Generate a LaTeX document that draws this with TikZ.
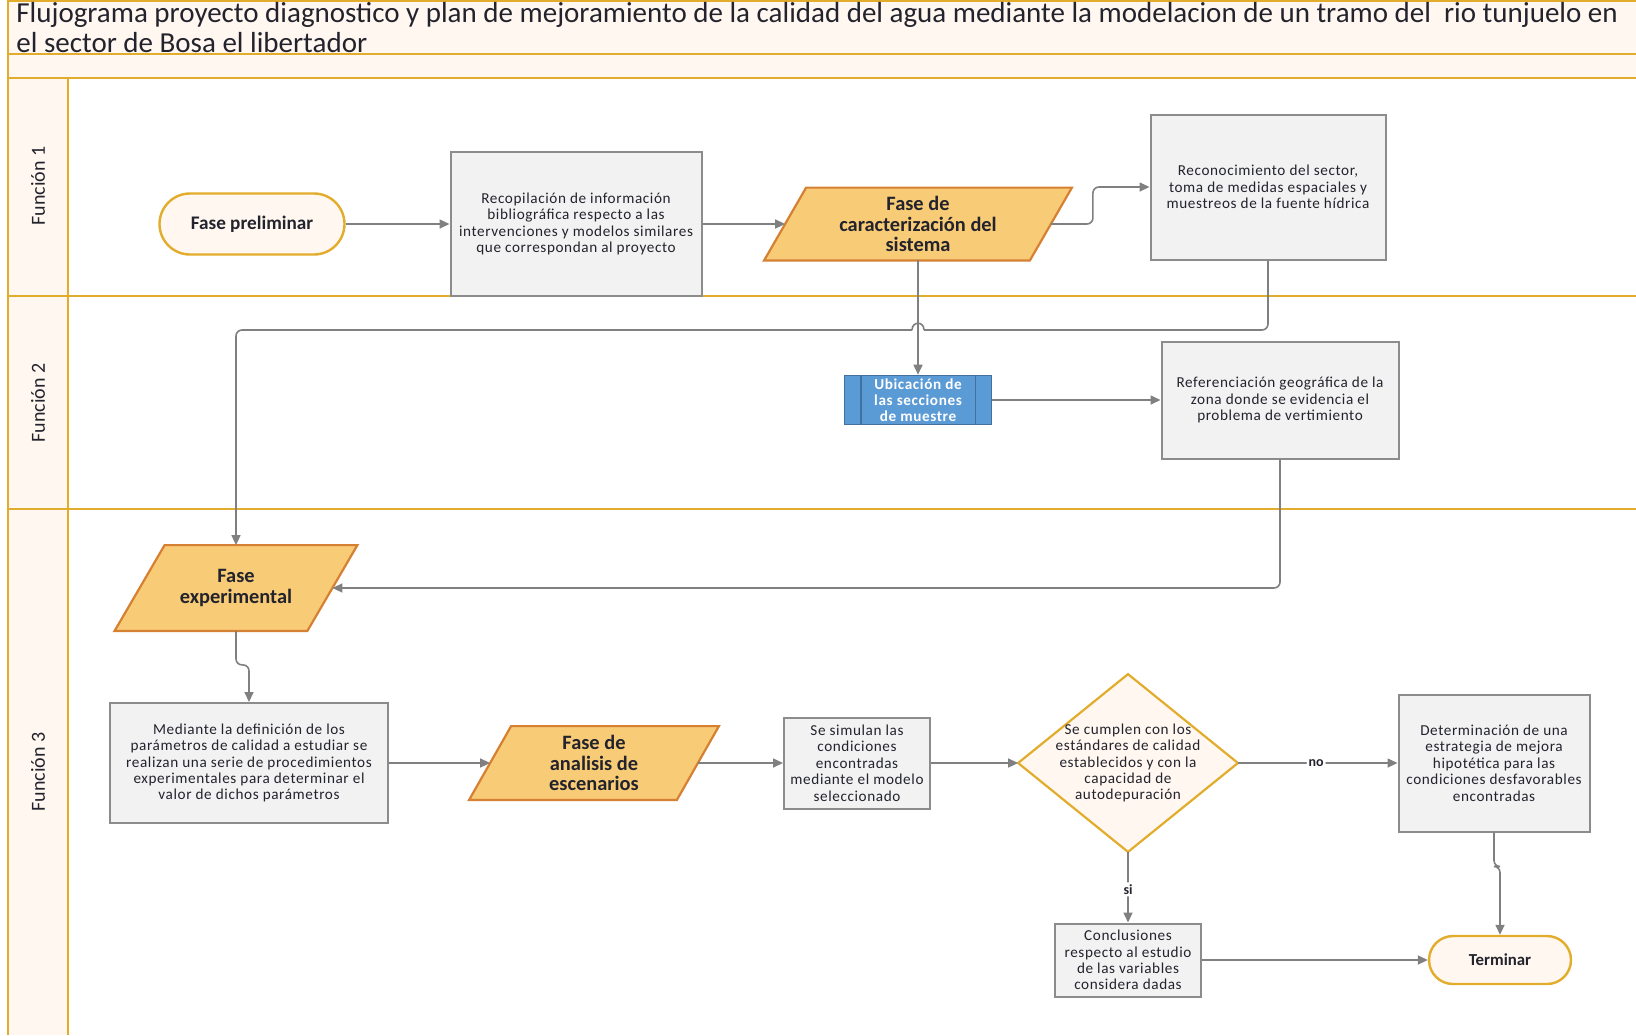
\documentclass[tikz,border=0pt]{standalone}
\usepackage{fontspec}
\setmainfont{Carlito}
\newfontfamily\spaced[LetterSpace=4]{Carlito}
\usetikzlibrary{arrows.meta,shapes.misc,backgrounds}
\definecolor{lanegold}{RGB}{226,172,44}
\definecolor{peach}{RGB}{255,247,240}
\definecolor{boxfill}{RGB}{242,242,242}
\definecolor{boxline}{RGB}{140,140,140}
\definecolor{parafill}{RGB}{248,203,118}
\definecolor{paraline}{RGB}{213,128,50}
\definecolor{bluefill}{RGB}{91,155,213}
\definecolor{blueline}{RGB}{65,113,156}
\definecolor{conncol}{RGB}{128,128,128}
\definecolor{txt}{RGB}{35,35,45}
\begin{document}
\begin{tikzpicture}[x=0.5pt,y=-0.5pt,
  lane/.style={draw=lanegold,line width=1.4pt},
  procbox/.style={draw=boxline,fill=boxfill,line width=1pt,align=center,inner sep=1pt,text=txt,font=\spaced\fontsize{7.6}{8.2}\selectfont},
  termshape/.style={rounded rectangle,draw=lanegold,fill=peach,line width=1.2pt,text=txt,inner sep=1pt},
  paratext/.style={align=center,inner sep=0pt,text=txt,font=\bfseries\fontsize{10.2}{10.3}\selectfont},
  parashape/.style={draw=paraline,fill=parafill,line width=1.1pt},
  connector/.style={draw=conncol,line width=0.8pt,rounded corners=3pt,-{Triangle[length=5pt,width=4.5pt]}},
  connline/.style={draw=conncol,line width=0.8pt,rounded corners=3pt},
  lbl/.style={font=\bfseries\fontsize{7}{8}\selectfont,text=txt,fill=white,inner sep=1pt},
  lanelabel/.style={rotate=90,font=\fontsize{10}{12}\selectfont,text=txt}
]
\useasboundingbox (0,0) rectangle (1636,1035);
\begin{scope}[on background layer]
  \fill[white] (0,0) rectangle (1636,1035);
  \fill[peach] (8,0) rectangle (1636,78);
  \fill[peach] (8,78) rectangle (68,1035);
  \draw[lane] (8,1) -- (1636,1);
  \draw[lane] (8,54) -- (1636,54);
  \draw[lane] (8,78) -- (1636,78);
  \draw[lane] (8,296) -- (1636,296);
  \draw[lane] (8,509) -- (1636,509);
  \draw[lane] (8,0) -- (8,1035);
  \draw[lane] (68,78) -- (68,1035);
\end{scope}

% title
\node[anchor=west,inner sep=0pt,text=txt,font=\fontsize{14.5}{15}\selectfont] (t1) at (16,15) {Flujograma proyecto diagnostico y plan de mejoramiento de la calidad del agua mediante la modelacion de un tramo del\ \ rio tunjuelo en};
\node[anchor=west,inner sep=0pt,text=txt,font=\fontsize{14.5}{15}\selectfont] (t2) at (16,43) {el sector de Bosa el libertador};

% lane labels
\node[lanelabel] (l1) at (38,186) {Función 1};
\node[lanelabel] (l2) at (38,403) {Función 2};
\node[lanelabel] (l3) at (38,772) {Función 3};

% nodes lane 1
\node[termshape,minimum width=94.5pt,minimum height=30.5pt,font=\bfseries\fontsize{9.6}{11}\selectfont] (prelim) at (252,224) {Fase preliminar};
\node[procbox,minimum width=125.5pt,minimum height=72pt] (recop) at (576,224) {Recopilación de información\\bibliográfica respecto a las\\intervenciones y modelos similares\\que correspondan al proyecto};
\node[paratext,minimum width=153.5pt,minimum height=36pt] (caract) at (918,224) {Fase de\\caracterización del\\sistema};
\node[procbox,minimum width=117.5pt,minimum height=72.5pt] (recon) at (1268,187) {Reconocimiento del sector,\\toma de medidas espaciales y\\muestreos de la fuente hídrica};

% lane 2
\node[draw=blueline,fill=bluefill,line width=0.8pt,minimum width=73.5pt,minimum height=24.5pt,inner sep=0pt,align=center,text=white,font=\spaced\bfseries\fontsize{7.6}{7.9}\selectfont] (ubic) at (918,400) {Ubicación de\\las secciones\\de muestre};
\draw[blueline,line width=0.8pt] ([xshift=8.5pt]ubic.north west) -- ([xshift=8.5pt]ubic.south west);
\draw[blueline,line width=0.8pt] ([xshift=-8.5pt]ubic.north east) -- ([xshift=-8.5pt]ubic.south east);
\node[procbox,minimum width=118.5pt,minimum height=58.5pt] (refer) at (1280,400) {Referenciación geográfica de la\\zona donde se evidencia el\\problema de vertimiento};

% lane 3
\node[paratext,minimum width=121pt,minimum height=42.5pt] (fexp) at (236,588) {Fase\\experimental};
\node[procbox,minimum width=139pt,minimum height=60pt] (medi) at (249,763) {Mediante la definición de los\\parámetros de calidad a estudiar se\\realizan una serie de procedimientos\\experimentales para determinar el\\valor de dichos parámetros};
\node[paratext,minimum width=124.5pt,minimum height=36.5pt] (anal) at (594,763) {Fase de\\analisis de\\escenarios};
\node[procbox,minimum width=73pt,minimum height=45.5pt] (simu) at (857,763) {Se simulan las\\condiciones\\encontradas\\mediante el modelo\\seleccionado};
\node[align=center,inner sep=0pt,minimum width=109.5pt,minimum height=88.5pt,text=txt,font=\spaced\fontsize{7.6}{8.1}\selectfont] (dec) at (1128,763) {Se cumplen con los\\estándares de calidad\\establecidos y con la\\capacidad de\\autodepuración};
\node[procbox,minimum width=95.5pt,minimum height=68.5pt] (deter) at (1494,763) {Determinación de una\\estrategia de mejora\\hipotética para las\\condiciones desfavorables\\encontradas};
\node[procbox,minimum width=73pt,minimum height=36.5pt] (concl) at (1128,960) {Conclusiones\\respecto al estudio\\de las variables\\considera dadas};
\node[termshape,minimum width=73pt,minimum height=24pt,font=\bfseries\fontsize{8.4}{10}\selectfont] (term) at (1500,960) {Terminar};

% shapes behind text
\begin{scope}[on background layer]
  \draw[parashape] ([xshift=21pt]caract.north west) -- (caract.north east) -- ([xshift=-21pt]caract.south east) -- (caract.south west) -- cycle;
  \draw[parashape] ([xshift=25pt]fexp.north west) -- (fexp.north east) -- ([xshift=-25pt]fexp.south east) -- (fexp.south west) -- cycle;
  \draw[parashape] ([xshift=21pt]anal.north west) -- (anal.north east) -- ([xshift=-21pt]anal.south east) -- (anal.south west) -- cycle;
  \draw[draw=lanegold,fill=peach,line width=1.1pt] (dec.north) -- (dec.east) -- (dec.south) -- (dec.west) -- cycle;
\end{scope}

% helper coordinates
\coordinate (caractL) at ([xshift=10.5pt]caract.west);
\coordinate (caractR) at ([xshift=-10.5pt]caract.east);
\coordinate (analL) at ([xshift=10.5pt]anal.west);
\coordinate (analR) at ([xshift=-10.5pt]anal.east);
\coordinate (fexpR) at ([xshift=-12.5pt]fexp.east);
\coordinate (hopy) at (0,330);
\coordinate (hopC) at (caract.south |- hopy);
\coordinate (hopR) at ([xshift=3pt]hopC);
\coordinate (hopL) at ([xshift=-3pt]hopC);

% connectors
\draw[connector] (prelim.east) -- (recop.west);
\draw[connector] (recop.east) -- (caractL);
\draw[connector] (caractR) -- ++(42,0) |- (recon.west);
\draw[connector] (caract.south) -- (ubic.north);
\draw[connline] (recon.south) |- (hopR);
\draw[draw=conncol,line width=0.8pt] (hopR) .. controls ([yshift=4.5pt]hopR) and ([yshift=4.5pt]hopL) .. (hopL);
\draw[connector] (hopL) -| (fexp.north);
\draw[connector] (ubic.east) -- (refer.west);
\draw[connector] (refer.south) |- (fexpR);
\draw[connector] (fexp.south) -- ++(0,34) -| (medi.north);
\draw[connector] (medi.east) -- (analL);
\draw[connector] (analR) -- (simu.west);
\draw[connector] (simu.east) -- (dec.west);
\draw[connector] (dec.east) -- node[lbl,pos=0.49] {no} (deter.west);
\draw[connector] (dec.south) -- node[lbl,pos=0.53] {si} (concl.north);
\draw[connector] (deter.south) -- ++(0,34) -| (term.north);
\draw[connector] (concl.east) -- (term.west);
\end{tikzpicture}
\end{document}
